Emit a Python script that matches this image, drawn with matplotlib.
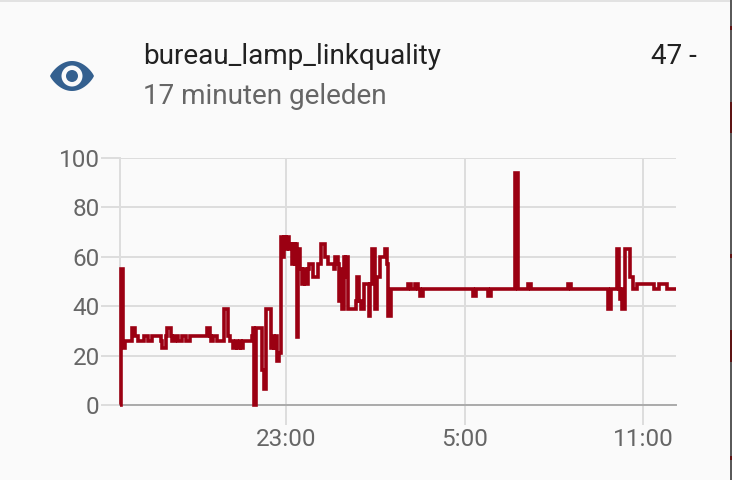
#!/usr/bin/env python3
# -*- coding: utf-8 -*-
import numpy as np
import matplotlib
matplotlib.use('Agg')
import matplotlib.pyplot as plt
from matplotlib.patches import Circle, Polygon, Rectangle

plt.rcParams['font.family'] = ['Roboto', 'DejaVu Sans']

# minutes relative to 23:00, state holds until the next sample
minutes = [-334, -332, -329, -325, -311, -304, -299, -286, -278, -270, -252, -250, -243, -240,
           -233, -230, -224, -218, -210, -202, -193, -160, -153, -151, -147, -139, -125, -117,
           -113, -107, -101, -99, -93, -91, -87, -69, -67, -65, -60, -48, -44, -41, -30, -26,
           -24, -20, -19, -14, -11, -6, -4, 0, 2, 6, 8, 12, 14, 18, 20, 22, 24, 28, 32, 36, 38,
           44, 46, 54, 65, 71, 79, 85, 97, 99, 105, 107, 111, 113, 117, 119, 121, 125, 141, 143,
           147, 151, 157, 167, 169, 174, 180, 184, 190, 200, 204, 206, 212, 246, 252, 260, 266,
           270, 276, 377, 383, 407, 413, 462, 468, 489, 494, 569, 575, 649, 656, 668, 672, 674,
           676, 678, 684, 694, 700, 708, 742, 752, 768, 787]
linkquality = [0, 55, 23, 26, 31, 28, 26, 28, 26, 28, 26, 23, 28, 31,
               28, 26, 28, 26, 28, 26, 28, 31, 28, 26, 28, 26, 39, 28,
               26, 23, 26, 23, 26, 23, 26, 28, 31, 0, 31, 14, 6.5, 39, 23, 28,
               23, 28, 18, 21, 68, 60, 68, 63, 68, 63, 65, 57, 65, 57, 65, 27.5, 63, 55, 49, 55, 49,
               55, 57, 52, 57, 65, 60, 57, 55, 60, 57, 42, 55, 39, 60, 52, 60, 39, 42, 52,
               42, 39, 49, 36, 49, 63, 39, 52, 60, 63, 57, 36, 47, 49, 47, 49, 47,
               44, 47, 44, 47, 44, 47, 94, 47, 49, 47, 49, 47, 39, 47, 63, 47, 43,
               47, 39, 63, 52, 47, 49, 47, 49, 47, 47]

tick_minutes = [0, 360, 720]
tick_labels = ['23:00', '5:00', '11:00']
y_ticks = [0, 20, 40, 60, 80, 100]

W, H = 732, 480
fig = plt.figure(figsize=(W/100, H/100), dpi=100, facecolor='#fafafa')

# chart area, placed in pixels
ax = fig.add_axes([120.5/W, 1-405/H, (676-120.5)/W, (405-158)/H], facecolor='none')
ax.step(minutes, linkquality, where='post', color='#9b0012', lw=2.6,
        solid_joinstyle='miter', solid_capstyle='butt', zorder=3, clip_on=False)
ax.set_xlim(-334, 786.6)
ax.set_ylim(0, 100)
ax.set_xticks(tick_minutes)
ax.set_xticklabels(tick_labels)
ax.set_yticks(y_ticks)
ax.grid(True, color='#dddddd', lw=1.4)
ax.set_axisbelow(True)
ax.tick_params(axis='both', width=1.4, color='#dddddd', labelcolor='#666666', labelsize=17.5)
ax.tick_params(axis='y', length=14, pad=1)
ax.tick_params(axis='x', length=14.4, pad=2)
for s in ('top', 'right'):
    ax.spines[s].set_visible(False)
ax.spines['left'].set_color('#dddddd')
ax.spines['left'].set_linewidth(1.4)
ax.spines['bottom'].set_color('#aaaaaa')
ax.spines['bottom'].set_linewidth(1.4)

# card header drawn on an overlay in pixel coordinates
ov = fig.add_axes([0, 0, 1, 1], facecolor='none')
ov.set_xlim(0, W)
ov.set_ylim(H, 0)
ov.axis('off')
ov.add_patch(Rectangle((0, 0), W, 2, color='#e2e2e2', lw=0))
ov.add_patch(Rectangle((730, 0), 2, H, color='#5a5a5a', lw=0))
# red bits of the page behind the card, along the right edge
for y0, y1 in [(26, 30), (102, 133), (254, 258), (330, 362), (456, 460)]:
    ov.add_patch(Rectangle((730, y0), 2, y1-y0, color='#5e1414', lw=0))

t = np.linspace(-1, 1, 41)
eye_x = 72 + 22*t
eye_top = 76 - 15*(1-t**2)**0.85
eye_bot = 76 + 15*(1-t**2)**0.85
ov.add_patch(Polygon(np.column_stack([np.r_[eye_x, eye_x[::-1]], np.r_[eye_top, eye_bot[::-1]]]),
                     closed=True, color='#34608f', lw=0))
ov.add_patch(Circle((72, 76), 10.5, color='#fafafa', lw=0))
ov.add_patch(Circle((72, 76), 6, color='#34608f', lw=0))

ov.text(143, 56.5, 'bureau_lamp_linkquality', fontsize=20.1, color='#212121', va='center', ha='left')
ov.text(143, 96.5, '17 minuten geleden', fontsize=20.1, color='#666666', va='center', ha='left')
ov.text(651, 56.5, '47 -', fontsize=20.1, color='#212121', va='center', ha='left')

fig.savefig('out.png', dpi=100, facecolor=fig.get_facecolor())
